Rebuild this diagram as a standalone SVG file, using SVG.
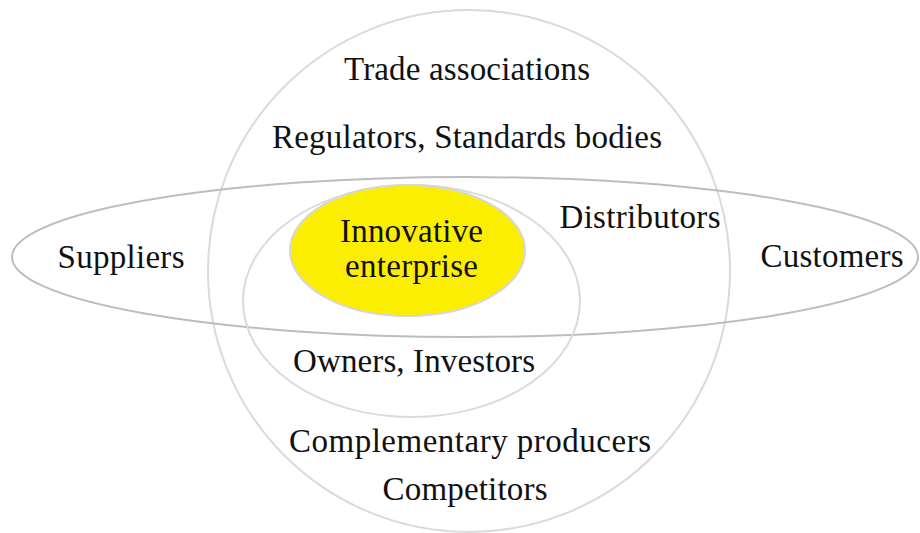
<svg xmlns="http://www.w3.org/2000/svg" width="920" height="533" viewBox="0 0 920 533">
  <style>
    .ring { fill: none; stroke-width: 2; }
    .light { stroke: #dadada; }
    .mid { stroke: #bdbdbd; }
    text { font-family: "Liberation Serif", "Times New Roman", serif; font-size: 33px; fill: #111; text-anchor: middle; }
  </style>
  <rect width="920" height="533" fill="#ffffff"/>

  <!-- outer circle: wider environment -->
  <g id="environment">
    <circle class="ring light" cx="469" cy="271" r="261"/>
    <text x="467" y="80" textLength="246" lengthAdjust="spacing">Trade associations</text>
    <text x="467" y="148" textLength="390" lengthAdjust="spacing">Regulators, Standards bodies</text>
    <text x="470" y="452" textLength="362" lengthAdjust="spacing">Complementary producers</text>
    <text x="465" y="500" textLength="165" lengthAdjust="spacing">Competitors</text>
  </g>

  <!-- value chain band -->
  <g id="value-chain">
    <ellipse class="ring mid" cx="465" cy="257" rx="453" ry="80"/>
    <text x="121" y="268" textLength="127" lengthAdjust="spacing">Suppliers</text>
    <text x="640" y="228" textLength="161" lengthAdjust="spacing">Distributors</text>
    <text x="832" y="267" textLength="143" lengthAdjust="spacing">Customers</text>
  </g>

  <!-- ownership ring -->
  <g id="ownership">
    <ellipse class="ring light" cx="411.5" cy="301" rx="168.5" ry="116"/>
    <text x="414" y="372" textLength="242" lengthAdjust="spacing">Owners, Investors</text>
  </g>

  <!-- core -->
  <g id="enterprise">
    <ellipse cx="407.5" cy="250.5" rx="117.5" ry="65.5" fill="#fcee00" stroke="#d6d6d6" stroke-width="2"/>
    <text x="411.5" y="242" textLength="143" lengthAdjust="spacing">Innovative</text>
    <text x="411.5" y="277" textLength="133" lengthAdjust="spacing">enterprise</text>
  </g>
</svg>
